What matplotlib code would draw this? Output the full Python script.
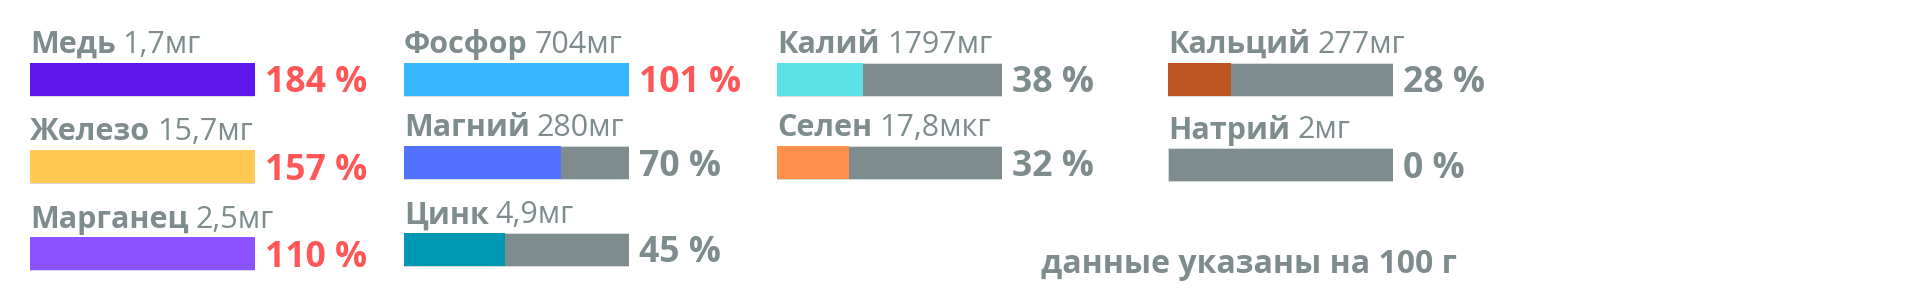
import matplotlib
matplotlib.use("Agg")
import matplotlib.pyplot as plt

# Mineral content per 100 g and share of the daily norm
nutrients = ["Медь", "Железо", "Марганец", "Фосфор", "Магний", "Цинк",
             "Калий", "Селен", "Кальций", "Натрий"]
amounts = ["1,7мг", "15,7мг", "2,5мг", "704мг", "280мг", "4,9мг",
           "1797мг", "17,8мкг", "277мг", "2мг"]
percents = [184, 157, 110, 101, 70, 45, 38, 32, 28, 0]
bar_colors = ["#5E17EB", "#FFC952", "#8C52FF", "#38B6FF", "#5271FF", "#0097B2",
              "#5CE1E6", "#FF914D", "#BE5420", "#7F8C8D"]
footnote = "данные указаны на 100 г"

# Grid layout: items per column, column left edges and bar tops (pixels)
col_sizes = [3, 3, 2, 2]
col_left = [30, 404, 777.3, 1168.3]
row_tops = [[62.5, 150, 237.3], [62.5, 146, 232.7], [62.5, 146], [62.5, 148]]
BAR_W = 224.5
BAR_H = 33

GRAY = "#7F8C8D"
RED = "#FF5757"
FONT = "Open Sans"

W_PX, H_PX = 1920, 300
fig = plt.figure(figsize=(W_PX / 100, H_PX / 100), dpi=100)
fig.patch.set_facecolor("white")

idx = 0
for c, n in enumerate(col_sizes):
    ax = fig.add_axes([col_left[c] / W_PX, 0, BAR_W / W_PX, 1])
    ax.set_xlim(0, 100)
    ax.set_ylim(H_PX, 0)
    ax.axis("off")
    for r in range(n):
        top = row_tops[c][r]
        pct = percents[idx]
        yc = top + BAR_H / 2
        # grey track and coloured fill
        ax.barh(yc, 100, height=BAR_H, left=0, color=GRAY,
                edgecolor="#D9DEE0", linewidth=0.6)
        if pct > 0:
            ax.barh(yc, min(pct, 100), height=BAR_H, left=0,
                    color=bar_colors[idx], linewidth=0)
        # name (bold) followed by amount (regular)
        t1 = ax.text(0, top - 9.5, nutrients[idx], fontsize=22,
                     fontweight="bold", family=FONT, color=GRAY,
                     ha="left", va="baseline", clip_on=False)
        ax.annotate(amounts[idx], xy=(1, 0), xycoords=t1,
                    xytext=(5, 0), textcoords="offset points",
                    fontsize=22, family=FONT, color=GRAY,
                    ha="left", va="bottom", annotation_clip=False)
        # percentage of daily norm
        ax.annotate(f"{pct} %", xy=(100, top + BAR_H - 3.5), xycoords="data",
                    xytext=(7.5, 0), textcoords="offset points",
                    fontsize=25.7, fontweight="bold", family=FONT,
                    color=RED if pct >= 100 else GRAY,
                    ha="left", va="baseline", annotation_clip=False)
        idx += 1

fig.text(1041 / W_PX, 1 - 273 / H_PX, footnote, fontsize=23,
         fontweight="bold", family=FONT, color=GRAY,
         ha="left", va="baseline")

fig.savefig("out.png", dpi=100, facecolor="white")
